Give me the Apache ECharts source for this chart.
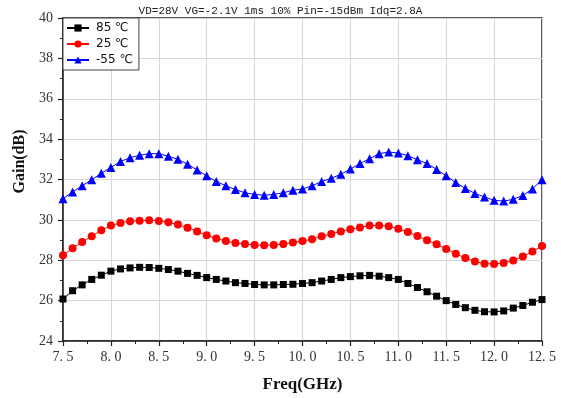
<!DOCTYPE html>
<html><head><meta charset="utf-8">
<script src="https://cdn.jsdelivr.net/npm/echarts@6/dist/echarts.min.js"></script>
<style>html,body{margin:0;padding:0;background:#fff}#c{width:561px;height:398px}</style>
</head><body><div id="c"></div>
<script>
const freq = [7.5,7.6,7.7,7.8,7.9,8.0,8.1,8.2,8.3,8.4,8.5,8.6,8.7,8.8,8.9,9.0,9.1,9.2,9.3,9.4,9.5,9.6,9.7,9.8,9.9,10.0,
  10.1,10.2,10.3,10.4,10.5,10.6,10.7,10.8,10.9,11.0,11.1,11.2,11.3,11.4,11.5,11.6,11.7,11.8,11.9,12.0,12.1,12.2,12.3,12.4,12.5];
const gain85 = [26.08,26.49,26.78,27.05,27.26,27.46,27.57,27.62,27.65,27.64,27.60,27.54,27.46,27.35,27.25,27.14,27.05,26.97,26.89,26.85,26.80,26.78,26.78,26.80,26.81,26.85,
  26.89,26.97,27.05,27.14,27.19,27.23,27.25,27.21,27.14,27.05,26.85,26.65,26.44,26.22,26.00,25.81,25.65,25.52,25.45,25.44,25.49,25.63,25.76,25.92,26.05];
const gain25 = [28.25,28.59,28.91,29.19,29.48,29.72,29.85,29.93,29.96,29.98,29.95,29.88,29.77,29.61,29.43,29.24,29.08,28.95,28.86,28.80,28.75,28.74,28.75,28.80,28.88,28.95,
  29.04,29.19,29.30,29.43,29.53,29.62,29.72,29.72,29.69,29.56,29.40,29.20,28.99,28.79,28.56,28.32,28.11,27.94,27.83,27.82,27.86,27.99,28.18,28.43,28.70];
const gainM55 = [31.05,31.38,31.69,31.99,32.31,32.60,32.89,33.08,33.20,33.28,33.28,33.15,33.00,32.76,32.47,32.18,31.90,31.69,31.50,31.34,31.26,31.22,31.26,31.34,31.47,31.53,
  31.69,31.90,32.06,32.26,32.52,32.79,33.03,33.28,33.36,33.31,33.18,32.98,32.79,32.50,32.18,31.85,31.56,31.31,31.13,30.97,30.93,31.02,31.21,31.53,31.99];
const seriesNames = ['85 ℃','25 ℃','-55 ℃'];
const titleText = 'VD=28V VG=-2.1V 1ms 10% Pin=-15dBm Idq=2.8A';

const pairs = arr => freq.map((f,i)=>[f,arr[i]]);
const chart = echarts.init(document.getElementById('c'), null, {renderer:'canvas'});
const mk = (name, data, color, symbol, size) => ({
  name, type:'line', data: pairs(data), symbol, symbolSize:size, showSymbol:true,
  lineStyle:{color, width:1}, itemStyle:{color}, animation:false, z:3
});
chart.setOption({
  animation:false,
  title:{text:titleText, left:'center', top:1, itemGap:0,
    textStyle:{fontFamily:'Liberation Mono', fontSize:11, fontWeight:'normal', color:'#222'}},
  legend:{
    left:63, top:18, orient:'vertical', itemGap:4, itemWidth:22, itemHeight:9,
    padding:[4,6,4,3], backgroundColor:'#fff', borderColor:'#444', borderWidth:1,
    textStyle:{fontFamily:'DejaVu Sans', fontSize:12, color:'#111', padding:[0,0,0,2]},
    data: seriesNames
  },
  grid:{left:63, right:19, top:18, bottom:50, show:true, borderColor:'#222', borderWidth:1.5, backgroundColor:'transparent'},
  xAxis:{
    type:'value', min:7.5, max:12.5, interval:0.5,
    name:'Freq(GHz)', nameLocation:'middle', nameGap:35,
    nameTextStyle:{fontFamily:'Liberation Serif', fontSize:17, fontWeight:'bold', color:'#111'},
    axisLine:{lineStyle:{color:'#222', width:1.5}},
    axisTick:{show:true, inside:false, length:5, lineStyle:{color:'#222', width:1.2}},
    minorTick:{show:true, splitNumber:2, length:3, lineStyle:{color:'#222', width:1}},
    axisLabel:{margin:9, fontFamily:'Liberation Serif', fontSize:14, color:'#333',
      formatter: v => v.toFixed(1).replace('.', '. ')},
    splitLine:{show:true, lineStyle:{color:'#d8d8d8', width:1}}
  },
  yAxis:{
    type:'value', min:24, max:40, interval:2,
    name:'Gain(dB)', nameLocation:'middle', nameGap:34, nameRotate:90,
    nameTextStyle:{fontFamily:'Liberation Serif', fontSize:16, fontWeight:'bold', color:'#111', padding:[0,0,0,36]},
    axisLine:{show:true, lineStyle:{color:'#222', width:1.5}},
    axisTick:{show:true, inside:false, length:5, lineStyle:{color:'#222', width:1.2}},
    minorTick:{show:true, splitNumber:2, length:3, lineStyle:{color:'#222', width:1}},
    axisLabel:{margin:10, fontFamily:'Liberation Serif', fontSize:14, color:'#333'},
    splitLine:{show:true, lineStyle:{color:'#d8d8d8', width:1}}
  },
  series:[
    mk(seriesNames[0], gain85, '#000000', 'rect', 7),
    mk(seriesNames[1], gain25, '#ff0000', 'circle', 8),
    mk(seriesNames[2], gainM55, '#0000ff', 'triangle', 9)
  ]
});
</script></body></html>
